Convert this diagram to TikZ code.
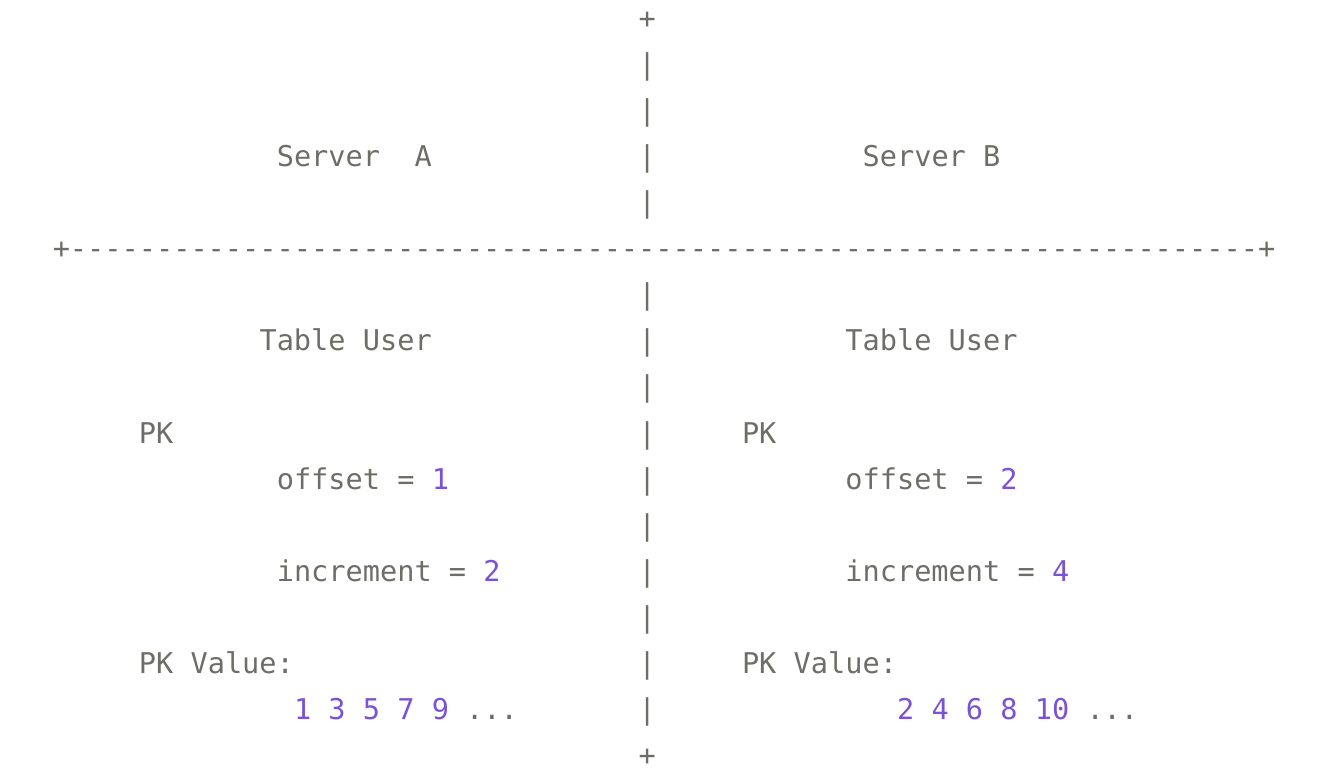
\documentclass[tikz,border=0pt]{standalone}
\usepackage{fontspec}
\setmonofont{DejaVu Sans Mono}
\usepackage{tikz}

\definecolor{ink}{HTML}{6E6E69}
\definecolor{pkno}{HTML}{7B52D6}
\tikzset{
  ascii/.style={anchor=base west, inner sep=0pt, text=ink,
    font=\ttfamily\fontsize{14.3pt}{17pt}\selectfont}
}

\begin{document}
\begin{tikzpicture}[x=8.615pt, y=23pt]
  \useasboundingbox (0,0) rectangle (78.0,-16.826);
  \begin{scope}[shift={(3.04,-0.63)}]
  	\node[ascii] (top) at (34,0) {+};
  	\node[ascii] (bar1) at (34,-1) {|};
  	\node[ascii] (bar2) at (34,-2) {|};
  	\node[ascii] (bar3) at (34,-3) {|};
  	\node[ascii] (bar4) at (34,-4) {|};

  	\node[ascii] (srvA) at (13,-3) {Server\ \ A};
  	\node[ascii] (srvB) at (47,-3) {Server B};

  	\node[ascii] (rule) at (0,-5) {+---------------------------------------------------------------------+};

  	\node[ascii] (bar6) at (34,-6) {|};
  	\node[ascii] (bar7) at (34,-7) {|};
  	\node[ascii] (bar8) at (34,-8) {|};
  	\node[ascii] (bar9) at (34,-9) {|};
  	\node[ascii] (bar10) at (34,-10) {|};
  	\node[ascii] (bar11) at (34,-11) {|};
  	\node[ascii] (bar12) at (34,-12) {|};
  	\node[ascii] (bar13) at (34,-13) {|};
  	\node[ascii] (bar14) at (34,-14) {|};
  	\node[ascii] (bar15) at (34,-15) {|};

  	\node[ascii] (tblA) at (12,-7) {Table User};
  	\node[ascii] (tblB) at (46,-7) {Table User};

  	\node[ascii] (pkA) at (5,-9) {PK};
  	\node[ascii] (pkB) at (40,-9) {PK};
  	\node[ascii] (offA) at (13,-10) {offset = \textcolor{pkno}{1}};
  	\node[ascii] (offB) at (46,-10) {offset = \textcolor{pkno}{2}};
  	\node[ascii] (incA) at (13,-12) {increment = \textcolor{pkno}{2}};
  	\node[ascii] (incB) at (46,-12) {increment = \textcolor{pkno}{4}};

  	\node[ascii] (valA) at (5,-14) {PK Value:};
  	\node[ascii] (valB) at (40,-14) {PK Value:};
  	\node[ascii] (seqA) at (14,-15) {\textcolor{pkno}{1 3 5 7 9} ...};
  	\node[ascii] (seqB) at (49,-15) {\textcolor{pkno}{2 4 6 8 10} ...};

  	\node[ascii] (bot) at (34,-16) {+};
  \end{scope}
\end{tikzpicture}
\end{document}
